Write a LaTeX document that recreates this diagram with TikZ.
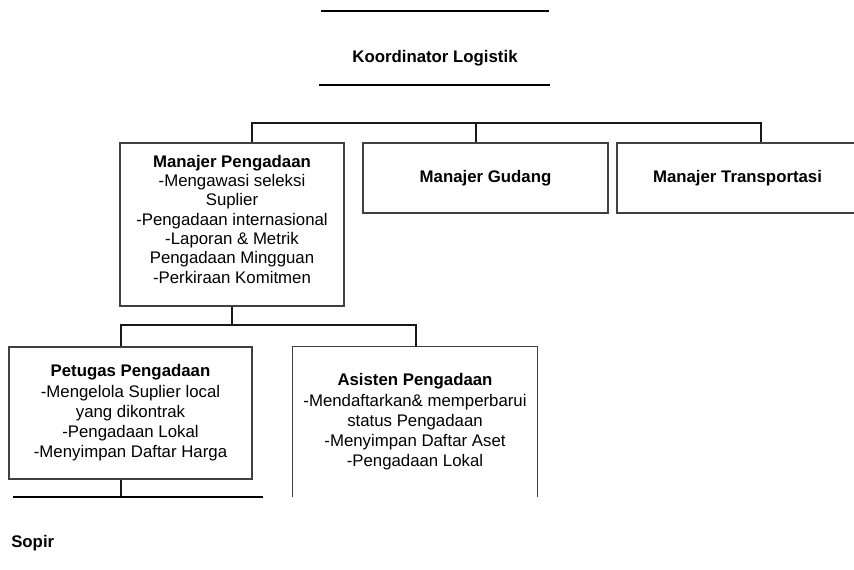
\documentclass[tikz,border=0pt]{standalone}
\usepackage{fontspec}
\setmainfont{Liberation Sans}
\usetikzlibrary{positioning}

\tikzset{
  box/.style={draw=black!75, line width=1.1pt, align=center, inner sep=0pt,
              font=\fontsize{12.6}{15.2}\selectfont},
  plain/.style={align=center, inner sep=0pt, font=\fontsize{12.6}{15.2}\selectfont},
  link/.style={draw=black!90, line width=1pt},
  heavy/.style={draw=black, line width=1.8pt}
}

\begin{document}
\begin{tikzpicture}[x=0.75pt,y=-0.75pt]
    \path[use as bounding box] (0,0) rectangle (854,569);
    \clip (0,0) rectangle (854,569);

    % title between two rules
    \coordinate (topA) at (321,11);
    \coordinate (topB) at (549,11);
    \coordinate (botA) at (319,85);
    \coordinate (botB) at (550,85);
    \draw[heavy] (topA) -- (topB);
    \draw[heavy] (botA) -- (botB);
    \node[plain] (koord) at (435,58) {\textbf{Koordinator Logistik}};

    % managers
    \node[box, minimum width=168pt, minimum height=122.25pt] (mpeng) at (232,224.5) {};
    \node[plain, font=\fontsize{12.6}{14.5}\selectfont] (mpengtext) at (232,219)
        {\textbf{Manajer Pengadaan}\\-Mengawasi seleksi\\Suplier\\-Pengadaan internasional\\-Laporan \& Metrik\\Pengadaan Mingguan\\-Perkiraan Komitmen};
    \node[box, minimum width=183.75pt, minimum height=52.5pt] (mgud) at (485.5,178)
        {\textbf{Manajer Gudang}};
    \node[box, minimum width=180.75pt, minimum height=52.5pt] (mtrans) at (737.5,178)
        {\textbf{Manajer Transportasi}};

    % staff
    \node[box, minimum width=182.25pt, minimum height=99pt] (petugas) at (130.5,413)
        {\textbf{Petugas Pengadaan}\\-Mengelola Suplier local\\yang dikontrak\\-Pengadaan Lokal\\-Menyimpan Daftar Harga};
    \node[plain, minimum width=183pt, minimum height=112.5pt] (asisten) at (415,422)
        {\textbf{Asisten Pengadaan}\\-Mendaftarkan\& memperbarui\\status Pengadaan\\-Menyimpan Daftar Aset\\-Pengadaan Lokal};
    \draw[draw=black!75, line width=1.1pt] (asisten.south west) -- (asisten.north west)
        -- (asisten.north east) -- (asisten.south east);

    % bus below the title
    \coordinate (busL) at (252,123);
    \coordinate (busM) at (476,123);
    \coordinate (busR) at (761,123);
    \draw[link] (busL |- mpeng.north) -- (busL) -- (busR) -- (busR |- mtrans.north);
    \draw[link] (busM) -- (busM |- mgud.north);

    % bus below Manajer Pengadaan
    \coordinate (subL) at (121,325);
    \coordinate (subR) at (416,325);
    \draw[link] (mpeng.south) -- (mpeng.south |- subL);
    \draw[link] (subL |- petugas.north) -- (subL) -- (subR) -- (subR |- asisten.north);

    % rule below Petugas Pengadaan
    \coordinate (drop) at (121,497);
    \coordinate (barL) at (13,497);
    \coordinate (barR) at (263,497);
    \draw[link] (drop |- petugas.south) -- (drop);
    \draw[heavy] (barL) -- (barR);

    \node[plain, anchor=west] (sopir) at (11,543) {\textbf{Sopir}};
\end{tikzpicture}
\end{document}
